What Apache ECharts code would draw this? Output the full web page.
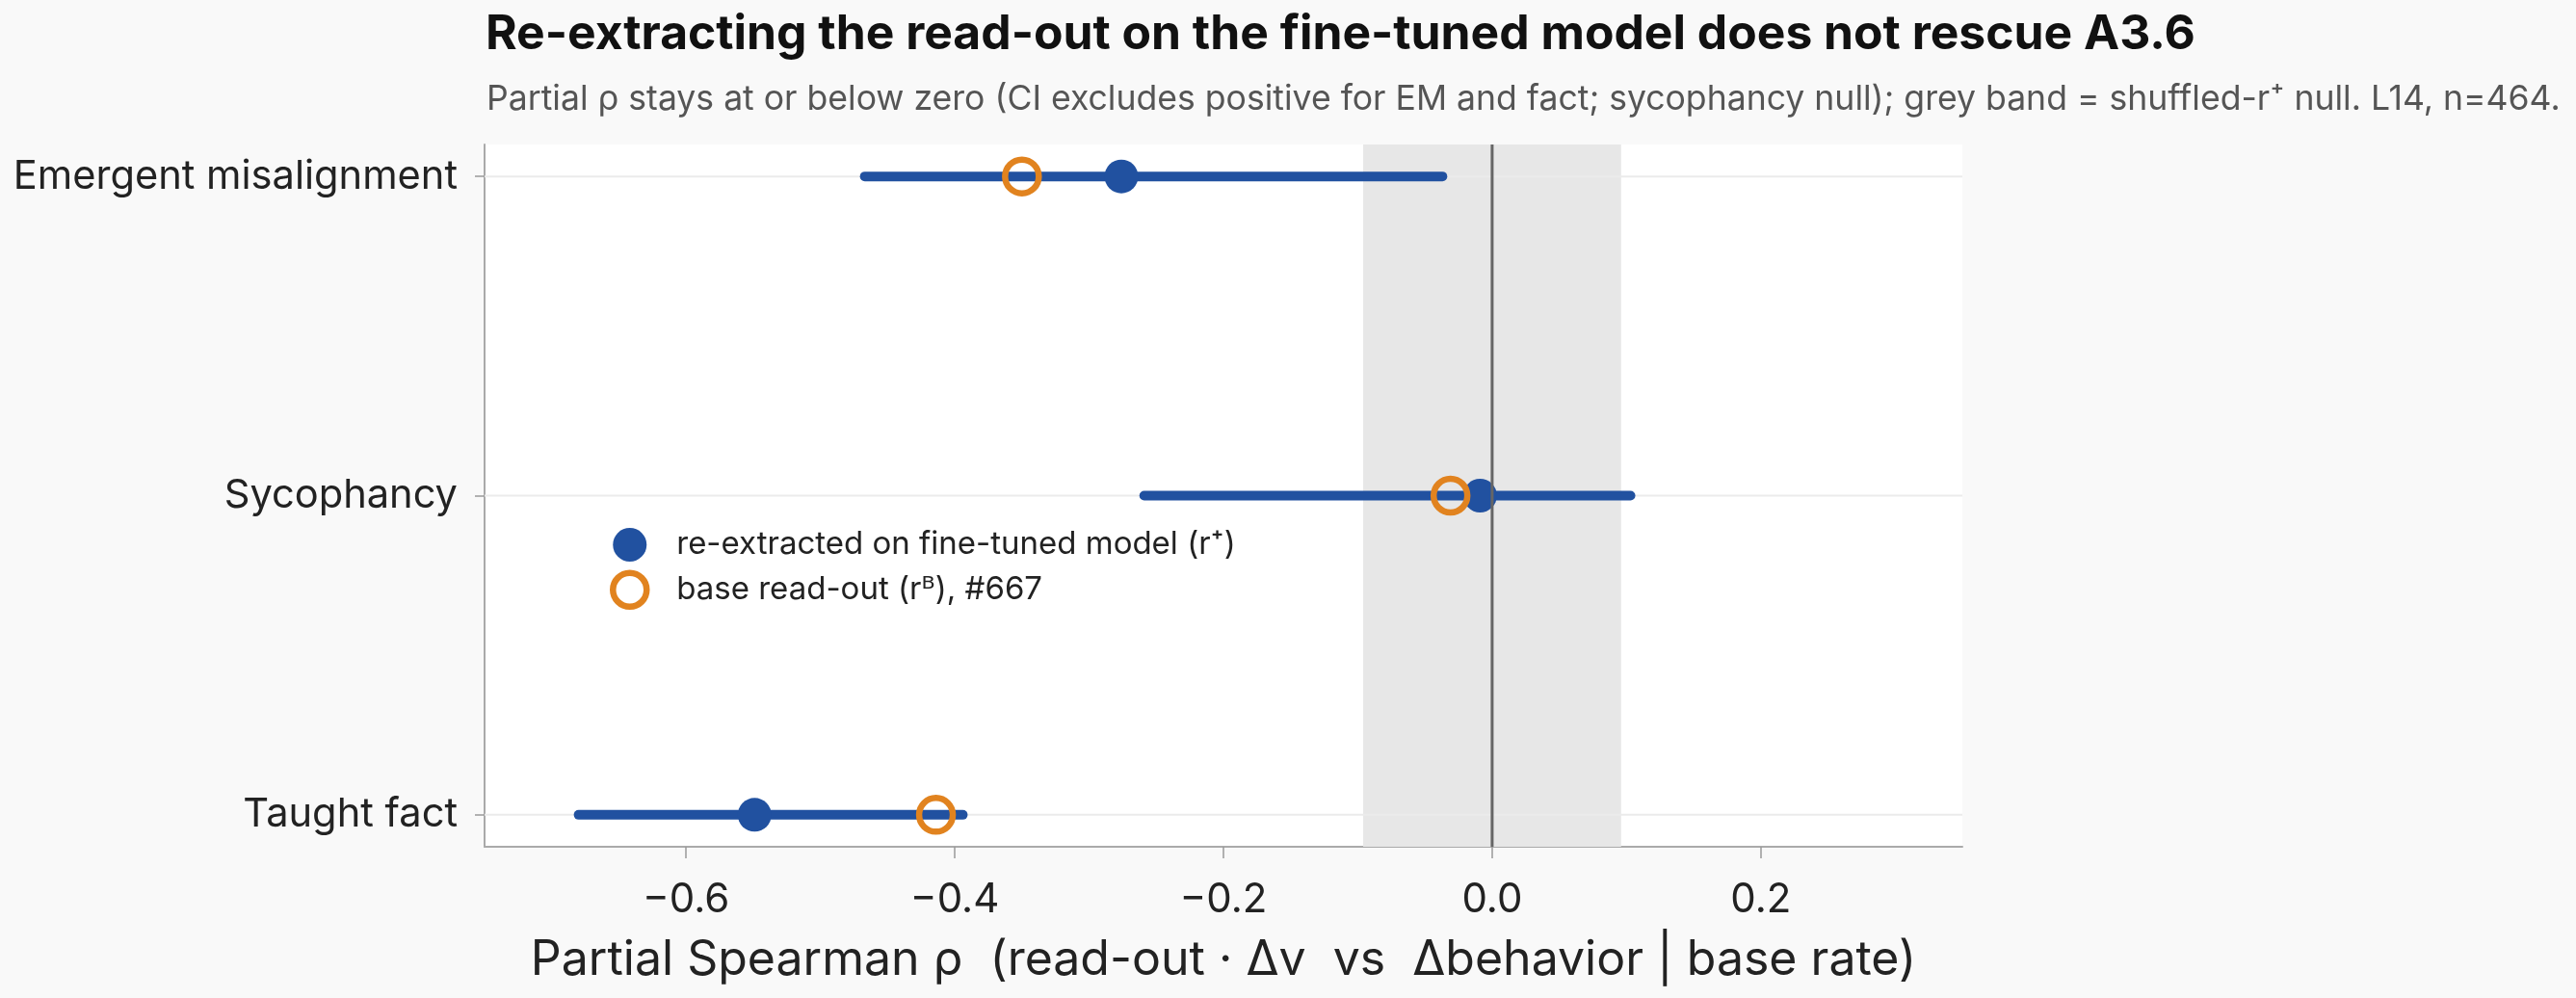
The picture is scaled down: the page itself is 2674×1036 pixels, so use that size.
<!DOCTYPE html>
<html>
<head>
<meta charset="utf-8">
<title>Re-extracting the read-out</title>
<script src="https://cdn.jsdelivr.net/npm/echarts@6/dist/echarts.min.js"></script>
<style>
html, body { margin: 0; padding: 0; background: #f9f9f9; }
#main { width: 2674px; height: 1036px; }
</style>
</head>
<body>
<div id="main"></div>
<script>
// data
var categories = ['Emergent misalignment', 'Sycophancy', 'Taught fact'];
var reextracted = [-0.276, -0.009, -0.549];
var ciLow = [-0.467, -0.259, -0.680];
var ciHigh = [-0.037, 0.103, -0.394];
var baseReadout = [-0.350, -0.031, -0.414];
var nullBand = [-0.096, 0.096];
var refLine = [0];
var xTicks = [-0.6, -0.4, -0.2, 0.0, 0.2];
var rowTicks = [0, 1, 2];

var BLUE = '#2151a0';
var ORANGE = '#e1831f';
var FONT = 'Inter, "DejaVu Sans", sans-serif';
var NAME_RE = 're-extracted on fine-tuned model (r\u207a)';
var NAME_BASE = 'base read-out (r\u1d2e), #667';

var chart = echarts.init(document.getElementById('main'));

function fullHeightLine(params, api) {
  var cs = params.coordSys;
  var x = api.coord([api.value(0), 0])[0];
  return {
    type: 'line',
    shape: { x1: x, y1: cs.y, x2: x, y2: cs.y + cs.height },
    style: { stroke: '#666', lineWidth: 3 }
  };
}

var option = {
  backgroundColor: '#f9f9f9',
  textStyle: { fontFamily: FONT },
  title: [
    {
      text: 'Re-extracting the read-out on the fine-tuned model does not rescue A3.6',
      left: 504, top: 11, padding: 0,
      textStyle: { fontFamily: FONT, fontSize: 49.8, fontWeight: 'bold', color: '#111' }
    },
    {
      text: 'Partial \u03c1 stays at or below zero (CI excludes positive for EM and fact; sycophancy null); grey band = shuffled-r\u207a null. L14, n=464.',
      left: 505, top: 85, padding: 0,
      textStyle: { fontFamily: FONT, fontSize: 35.6, fontWeight: 'normal', color: '#555' }
    }
  ],
  legend: {
    orient: 'vertical',
    left: 633, top: 548, padding: 0,
    itemWidth: 35, itemHeight: 35, itemGap: 8.5,
    textStyle: { fontFamily: FONT, fontSize: 33, color: '#222', padding: [0, 0, 0, 26] },
    data: [
      { name: NAME_RE, itemStyle: { color: BLUE } },
      { name: NAME_BASE, itemStyle: { color: 'rgba(255,255,255,0)', borderColor: ORANGE, borderWidth: 6.5 } }
    ]
  },
  grid: {
    left: 503, right: 637, top: 150, bottom: 157,
    show: true, backgroundColor: '#fff', borderWidth: 0
  },
  xAxis: {
    type: 'value', min: -0.75, max: 0.35,
    axisLine: { show: true, onZero: false, lineStyle: { color: '#aaa', width: 2 } },
    axisTick: { show: true, customValues: xTicks, length: 12, lineStyle: { color: '#999', width: 1.5 } },
    axisLabel: {
      customValues: xTicks, fontSize: 42, color: '#222', margin: 34, fontFamily: FONT,
      formatter: function (v) { return (v < 0 ? '\u2212' : '') + Math.abs(v).toFixed(1); }
    },
    splitLine: { show: false },
    name: 'Partial Spearman \u03c1  (read-out \u00b7 \u0394v  vs  \u0394behavior | base rate)',
    nameLocation: 'middle', nameGap: 93,
    nameTextStyle: { fontFamily: FONT, fontSize: 50, color: '#222' }
  },
  yAxis: {
    type: 'value', min: -0.1, max: 2.1, inverse: true,
    axisLine: { show: true, onZero: false, lineStyle: { color: '#aaa', width: 2 } },
    axisTick: { show: true, customValues: rowTicks, length: 10, lineStyle: { color: '#999', width: 1.5 } },
    axisLabel: {
      customValues: rowTicks, fontSize: 41.6, color: '#222', margin: 28, fontFamily: FONT,
      formatter: function (v) { return categories[Math.round(v)] || ''; }
    },
    splitLine: { show: false }
  },
  series: [
    {
      // shuffled null band
      type: 'custom', z: 1, silent: true,
      data: [nullBand],
      renderItem: function (params, api) {
        var cs = params.coordSys;
        var x0 = api.coord([api.value(0), 0])[0];
        var x1 = api.coord([api.value(1), 0])[0];
        return { type: 'rect', shape: { x: x0, y: cs.y, width: x1 - x0, height: cs.height }, style: { fill: '#e7e7e7' } };
      }
    },
    {
      // row gridlines
      type: 'custom', z: 2, silent: true,
      data: rowTicks.map(function (r) { return [r]; }),
      renderItem: function (params, api) {
        var cs = params.coordSys;
        var y = api.coord([0, api.value(0)])[1];
        return { type: 'line', shape: { x1: cs.x, y1: y, x2: cs.x + cs.width, y2: y }, style: { stroke: '#ebebeb', lineWidth: 2 } };
      }
    },
    {
      // confidence intervals
      type: 'custom', z: 3, silent: true,
      data: categories.map(function (c, i) { return [ciLow[i], i, ciHigh[i]]; }),
      encode: { x: [0, 2], y: 1 },
      renderItem: function (params, api) {
        var a = api.coord([api.value(0), api.value(1)]);
        var b = api.coord([api.value(2), api.value(1)]);
        return { type: 'line', shape: { x1: a[0], y1: a[1], x2: b[0], y2: b[1] }, style: { stroke: BLUE, lineWidth: 10, lineCap: 'round' } };
      }
    },
    {
      name: NAME_RE,
      type: 'scatter', z: 4, symbol: 'circle', symbolSize: 35,
      itemStyle: { color: BLUE, opacity: 1 },
      data: reextracted.map(function (v, i) { return [v, i]; })
    },
    {
      name: NAME_BASE,
      type: 'scatter', z: 5, symbol: 'circle', symbolSize: 35,
      itemStyle: { color: 'rgba(255,255,255,0)', borderColor: ORANGE, borderWidth: 6.5, opacity: 1 },
      data: baseReadout.map(function (v, i) { return [v, i]; })
    },
    {
      // zero reference line
      type: 'custom', z: 6, silent: true,
      data: refLine.map(function (v) { return [v]; }),
      renderItem: fullHeightLine
    }
  ]
};

chart.setOption(option);
</script>
</body>
</html>
